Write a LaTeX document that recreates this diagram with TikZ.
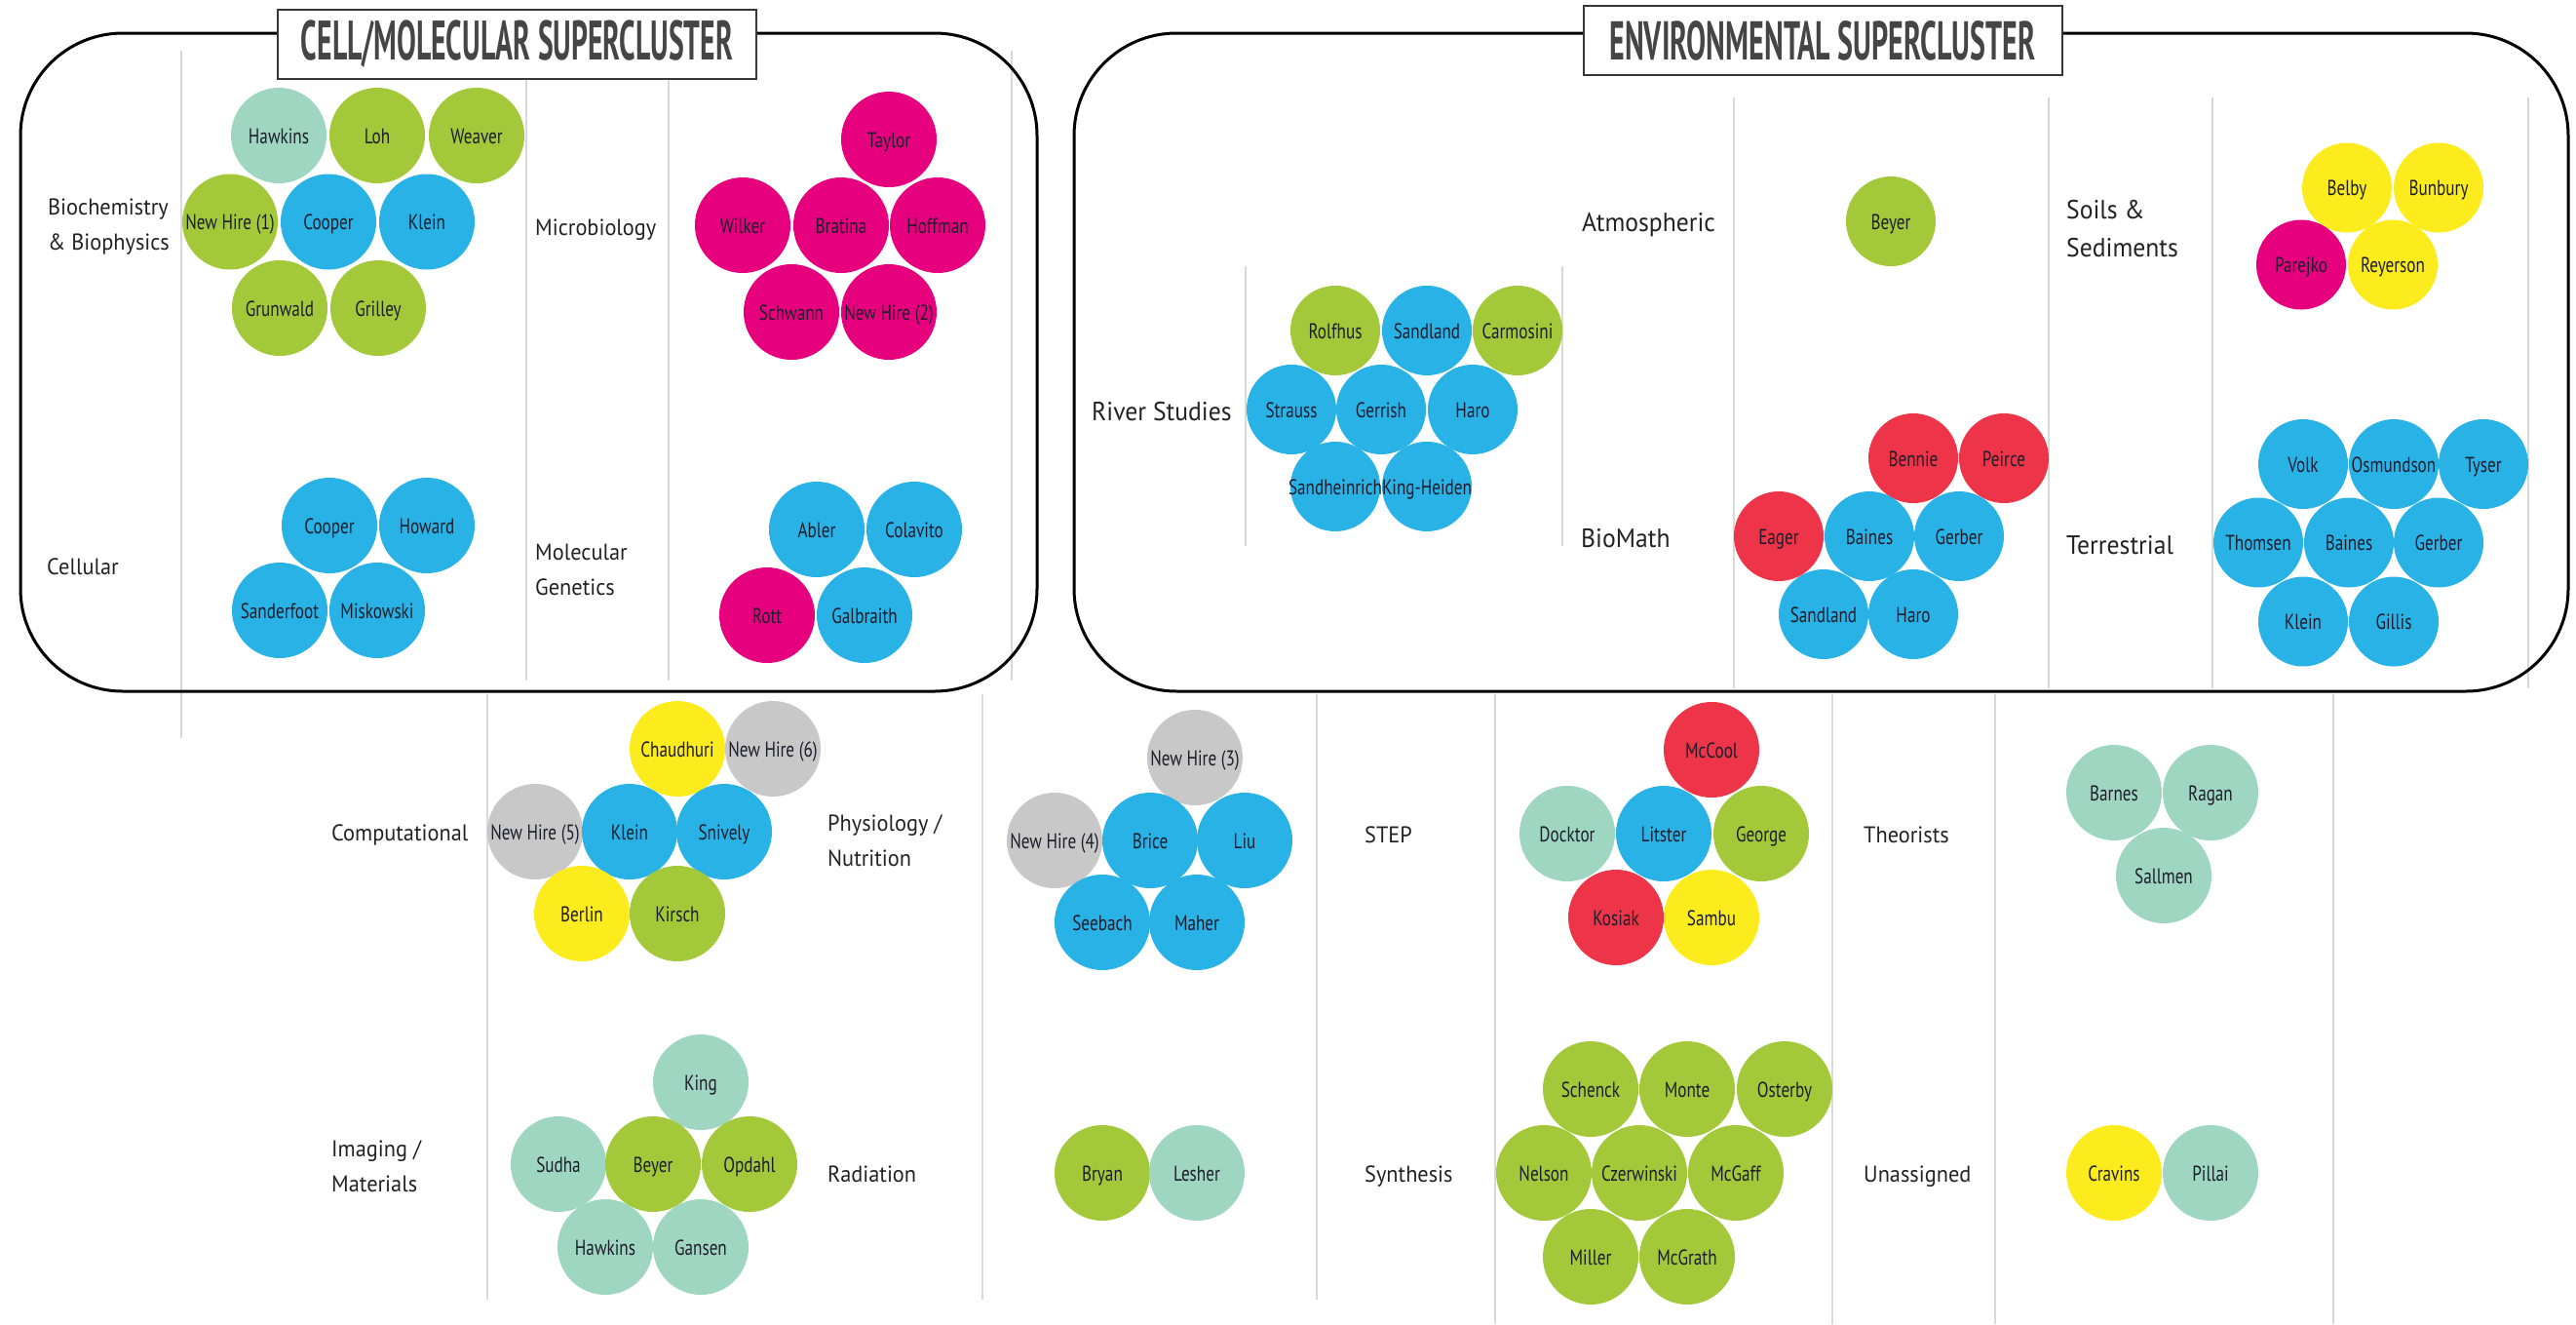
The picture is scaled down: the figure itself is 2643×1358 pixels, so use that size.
\documentclass[tikz,border=0pt]{standalone}
\usepackage{fontspec}
\usepackage{graphicx}
\setmainfont{PT Sans}[FakeStretch=0.95]
\newfontfamily\namefont{PT Sans}[FakeStretch=0.78]
\newfontfamily\titlefont{PT Sans}[FakeStretch=0.7]
\definecolor{cgreen}{HTML}{A3C93A}
\definecolor{cblue}{HTML}{29B2E6}
\definecolor{cteal}{HTML}{9FD6C2}
\definecolor{cmag}{HTML}{E6007E}
\definecolor{cred}{HTML}{EE3448}
\definecolor{cyel}{HTML}{FCEC1E}
\definecolor{cgray}{HTML}{C8C8C8}
\definecolor{namecol}{HTML}{1D1D2B}
\definecolor{labcol}{HTML}{222222}
\definecolor{linegray}{HTML}{D9D9D9}
\definecolor{titlecol}{HTML}{454545}
\tikzset{
  person/.style={circle, inner sep=0pt, minimum size=98pt, draw=none,
    font=\namefont\fontsize{22}{26}\selectfont, text=namecol,
    text height=16.2pt, text depth=0pt},
  envperson/.style={person, minimum size=92pt},
  gline/.style={draw=linegray, line width=1.5pt},
  framebox/.style={draw=black, line width=3pt, rounded corners=105pt},
  titlebox/.style={draw=titlecol!80!black, line width=2pt, fill=white, inner sep=0pt,
    minimum width=491pt, minimum height=71pt, text=titlecol,
    font=\titlefont\bfseries\fontsize{50}{50}\selectfont},
  lab/.style={anchor=base west, inner sep=0pt, text=labcol,
    font=\fontsize{23.5}{28}\selectfont},
  envlab/.style={lab, font=\fontsize{27}{32}\selectfont}
}
\newcommand\cpers[6]{\node[person, fill=#2] (#1) at (#3,#4) {\makebox[0pt]{#5}};}
\newcommand\epers[6]{\node[envperson, fill=#2] (#1) at (#3,#4) {\makebox[0pt]{#5}};}
\newcommand\twoline[2]{\vtop{\baselineskip=36pt\hbox{#1}\hbox{#2}}}
\newcommand\twolineenv[2]{\vtop{\baselineskip=39pt\hbox{#1}\hbox{#2}}}
\begin{document}
\begin{tikzpicture}[x=1pt,y=-1pt]
\useasboundingbox (0,0) rectangle (2643,1358);
% grid lines
\draw[gline] (186,52) -- (186,757);
\draw[gline] (540,52) -- (540,698);
\draw[gline] (686,52) -- (686,698);
\draw[gline] (1038,52) -- (1038,698);
\draw[gline] (1278,273) -- (1278,560);
\draw[gline] (1603,273) -- (1603,560);
\draw[gline] (1779,100) -- (1779,706);
\draw[gline] (2102,100) -- (2102,706);
\draw[gline] (2270,100) -- (2270,706);
\draw[gline] (2594,100) -- (2594,706);
\draw[gline] (500,712) -- (500,1333);
\draw[gline] (1008,712) -- (1008,1333);
\draw[gline] (1351,712) -- (1351,1333);
\draw[gline] (1534,712) -- (1534,1358);
\draw[gline] (1880,712) -- (1880,1358);
\draw[gline] (2047,712) -- (2047,1358);
\draw[gline] (2394,712) -- (2394,1358);
% superclusters
\draw[framebox] (21,34) rectangle (1064,709);
\draw[framebox] (1102,34) rectangle (2635,709);
\node[titlebox] (tcell) at (530.5,45.3) {\resizebox{443pt}{40.7pt}{CELL/MOLECULAR SUPERCLUSTER}};
\node[titlebox] (tenv) at (1870,41.5) {\resizebox{437pt}{40pt}{ENVIRONMENTAL SUPERCLUSTER}};
% labels
\node[lab] (lbio) at (49,220) {\twoline{Biochemistry}{\& Biophysics}};
\node[lab] (lmic) at (549,241) {Microbiology};
\node[lab] (lcel) at (48,589) {Cellular};
\node[lab] (lmol) at (549,574) {\twoline{Molecular}{Genetics}};
\node[envlab] (latm) at (1623,237) {Atmospheric};
\node[envlab] (lriv) at (1120,431) {River Studies};
\node[envlab] (lbm) at (1622,561) {BioMath};
\node[envlab] (lsoi) at (2120,224) {\twolineenv{Soils \&}{Sediments}};
\node[envlab] (lter) at (2120,568) {Terrestrial};
\node[lab] (lcomp) at (340,862) {Computational};
\node[lab] (lphy) at (849,852) {\twoline{Physiology /}{Nutrition}};
\node[lab] (lstep) at (1400,864) {STEP};
\node[lab] (lthe) at (1912,864) {Theorists};
\node[lab] (limg) at (340,1186) {\twoline{Imaging /}{Materials}};
\node[lab] (lrad) at (849,1212) {Radiation};
\node[lab] (lsyn) at (1400,1212) {Synthesis};
\node[lab] (luna) at (1912,1212) {Unassigned};
% Biochemistry & Biophysics
\cpers{bc1}{cteal}{286}{139}{Hawkins}{}
\cpers{bc2}{cgreen}{387}{139}{Loh}{}
\cpers{bc3}{cgreen}{489}{139}{Weaver}{}
\cpers{bc4}{cgreen}{236}{227.5}{New Hire (1)}{}
\cpers{bc5}{cblue}{337}{227.5}{Cooper}{}
\cpers{bc6}{cblue}{438}{227.5}{Klein}{}
\cpers{bc7}{cgreen}{287}{316}{Grunwald}{}
\cpers{bc8}{cgreen}{388}{316}{Grilley}{}
% Microbiology
\cpers{mb1}{cmag}{912}{143}{Taylor}{}
\cpers{mb2}{cmag}{762}{231}{Wilker}{}
\cpers{mb3}{cmag}{863}{231}{Bratina}{}
\cpers{mb4}{cmag}{962}{231}{Hoffman}{}
\cpers{mb5}{cmag}{812}{320}{Schwann}{}
\cpers{mb6}{cmag}{912}{320}{New Hire (2)}{}
% Cellular
\cpers{ce1}{cblue}{338}{539}{Cooper}{}
\cpers{ce2}{cblue}{438}{539}{Howard}{}
\cpers{ce3}{cblue}{287}{626}{Sanderfoot}{}
\cpers{ce4}{cblue}{387}{626}{Miskowski}{}
% Molecular Genetics
\cpers{mg1}{cblue}{838}{543}{Abler}{}
\cpers{mg2}{cblue}{938}{543}{Colavito}{}
\cpers{mg3}{cmag}{787}{631}{Rott}{}
\cpers{mg4}{cblue}{887}{631}{Galbraith}{}
% Atmospheric
\epers{at1}{cgreen}{1940}{227}{Beyer}{}
% River Studies
\epers{rv1}{cgreen}{1370}{339}{Rolfhus}{}
\epers{rv2}{cblue}{1464}{339}{Sandland}{}
\epers{rv3}{cgreen}{1557}{339}{Carmosini}{}
\epers{rv4}{cblue}{1325}{420}{Strauss}{}
\epers{rv5}{cblue}{1417}{420}{Gerrish}{}
\epers{rv6}{cblue}{1511}{420}{Haro}{}
\epers{rv7}{cblue}{1370}{499}{Sandheinrich}{}
\epers{rv8}{cblue}{1464}{499}{King-Heiden}{}
% BioMath
\epers{bm1}{cred}{1963}{470}{Bennie}{}
\epers{bm2}{cred}{2056}{470}{Peirce}{}
\epers{bm3}{cred}{1825}{550}{Eager}{}
\epers{bm4}{cblue}{1918}{550}{Baines}{}
\epers{bm5}{cblue}{2010}{550}{Gerber}{}
\epers{bm6}{cblue}{1871}{630}{Sandland}{}
\epers{bm7}{cblue}{1963}{630}{Haro}{}
% Soils & Sediments
\epers{so1}{cyel}{2408}{192.5}{Belby}{}
\epers{so2}{cyel}{2502}{192.5}{Bunbury}{}
\epers{so3}{cmag}{2361}{271.5}{Parejko}{}
\epers{so4}{cyel}{2455}{271.5}{Reyerson}{}
% Terrestrial
\epers{te1}{cblue}{2363}{476}{Volk}{}
\epers{te2}{cblue}{2456}{476}{Osmundson}{}
\epers{te3}{cblue}{2548}{476}{Tyser}{}
\epers{te4}{cblue}{2317}{556.5}{Thomsen}{}
\epers{te5}{cblue}{2410}{556.5}{Baines}{}
\epers{te6}{cblue}{2502}{556.5}{Gerber}{}
\epers{te7}{cblue}{2363}{637.5}{Klein}{}
\epers{te8}{cblue}{2456}{637.5}{Gillis}{}
% Computational
\cpers{cp1}{cyel}{695}{768}{Chaudhuri}{}
\cpers{cp2}{cgray}{793}{768}{New Hire (6)}{}
\cpers{cp3}{cgray}{549}{853}{New Hire (5)}{}
\cpers{cp4}{cblue}{646}{853}{Klein}{}
\cpers{cp5}{cblue}{743}{853}{Snively}{}
\cpers{cp6}{cyel}{597}{937}{Berlin}{}
\cpers{cp7}{cgreen}{695}{937}{Kirsch}{}
% Physiology / Nutrition
\cpers{ph1}{cgray}{1226}{777}{New Hire (3)}{}
\cpers{ph2}{cgray}{1082}{862}{New Hire (4)}{}
\cpers{ph3}{cblue}{1180}{862}{Brice}{}
\cpers{ph4}{cblue}{1277}{862}{Liu}{}
\cpers{ph5}{cblue}{1131}{946}{Seebach}{}
\cpers{ph6}{cblue}{1228}{946}{Maher}{}
% STEP
\cpers{st1}{cred}{1756}{769}{McCool}{}
\cpers{st2}{cteal}{1608}{855}{Docktor}{}
\cpers{st3}{cblue}{1707}{855}{Litster}{}
\cpers{st4}{cgreen}{1807}{855}{George}{}
\cpers{st5}{cred}{1658}{941}{Kosiak}{}
\cpers{st6}{cyel}{1756}{941}{Sambu}{}
% Theorists
\cpers{th1}{cteal}{2169}{813}{Barnes}{}
\cpers{th2}{cteal}{2268}{813}{Ragan}{}
\cpers{th3}{cteal}{2220}{898}{Sallmen}{}
% Imaging / Materials
\cpers{im1}{cteal}{719}{1110}{King}{}
\cpers{im2}{cteal}{573}{1194}{Sudha}{}
\cpers{im3}{cgreen}{670}{1194}{Beyer}{}
\cpers{im4}{cgreen}{769}{1194}{Opdahl}{}
\cpers{im5}{cteal}{621}{1279}{Hawkins}{}
\cpers{im6}{cteal}{719}{1279}{Gansen}{}
% Radiation
\cpers{ra1}{cgreen}{1131}{1203}{Bryan}{}
\cpers{ra2}{cteal}{1228}{1203}{Lesher}{}
% Synthesis
\cpers{sy1}{cgreen}{1632}{1117}{Schenck}{}
\cpers{sy2}{cgreen}{1731}{1117}{Monte}{}
\cpers{sy3}{cgreen}{1831}{1117}{Osterby}{}
\cpers{sy4}{cgreen}{1584}{1203}{Nelson}{}
\cpers{sy5}{cgreen}{1682}{1203}{Czerwinski}{}
\cpers{sy6}{cgreen}{1781}{1203}{McGaff}{}
\cpers{sy7}{cgreen}{1632}{1289}{Miller}{}
\cpers{sy8}{cgreen}{1731}{1289}{McGrath}{}
% Unassigned
\cpers{un1}{cyel}{2169}{1203}{Cravins}{}
\cpers{un2}{cteal}{2268}{1203}{Pillai}{}
\end{tikzpicture}
\end{document}
